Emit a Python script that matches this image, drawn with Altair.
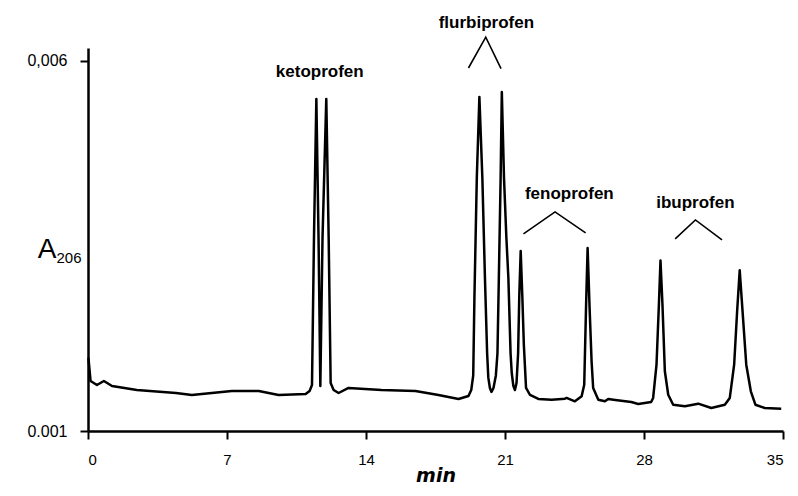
import altair as alt
import pandas as pd

# Chromatogram trace (time in min, absorbance at 206 nm)
times = [0.02, 0.13, 0.45, 0.80, 1.21, 2.46, 4.43, 5.23, 5.73, 7.24, 8.60, 9.60,
         10.96, 11.16, 11.28, 11.38, 11.50, 11.61, 11.70, 11.81, 12.00, 12.12, 12.22,
         12.37, 12.62, 13.12, 14.78, 16.49, 17.65, 18.66, 19.16, 19.30, 19.40, 19.46,
         19.58, 19.71, 19.86, 19.99, 20.10, 20.16, 20.24, 20.32, 20.42, 20.54, 20.62,
         20.69, 20.78, 20.84, 20.95, 21.07, 21.17, 21.28, 21.34, 21.42, 21.50, 21.58,
         21.66, 21.72, 21.79, 21.87, 21.95, 22.06, 22.26,
         22.68, 23.35, 24.02, 24.10, 24.52, 24.86, 24.99, 25.08, 25.16, 25.26, 25.36,
         25.44, 25.70, 26.03, 26.20, 26.55, 27.36, 27.71, 28.36, 28.46, 28.63, 28.75,
         28.83, 28.93, 29.05, 29.22, 29.47, 30.06, 30.73, 31.39, 32.07, 32.32, 32.54,
         32.69, 32.82, 32.94, 33.15, 33.38, 33.61, 34.08, 34.91]
absorbance = [0.00199, 0.001675, 0.001621, 0.001675, 0.001608, 0.001554, 0.001513,
              0.001486, 0.0015, 0.00154, 0.00154, 0.001486,
              0.0015, 0.00154, 0.001621, 0.003606, 0.005483, 0.003606, 0.001608,
              0.003606, 0.005483, 0.003606, 0.001648,
              0.001554, 0.001513, 0.001581, 0.001554, 0.00154, 0.001486, 0.001432,
              0.001473, 0.001554, 0.00175, 0.0028,
              0.004416, 0.00551, 0.004416, 0.003066, 0.00205, 0.00172, 0.00158,
              0.001527, 0.00158, 0.00175, 0.00205,
              0.003066, 0.004416, 0.005577, 0.004416, 0.003606, 0.003066, 0.00205,
              0.001783, 0.00161, 0.001554, 0.001648,
              0.00205, 0.002836, 0.00343, 0.002836, 0.002161, 0.001581, 0.001486,
              0.001432, 0.001423, 0.001436, 0.001446, 0.001401, 0.001469, 0.001625,
              0.002661, 0.003471, 0.002661, 0.001941,
              0.001581, 0.001423, 0.001401, 0.001432, 0.001419, 0.001392, 0.001365,
              0.001392, 0.001446, 0.001895, 0.002705,
              0.0033, 0.002705, 0.001806, 0.00149, 0.001355, 0.001334, 0.001369,
              0.001311, 0.001355, 0.001446, 0.001895,
              0.002616, 0.00317, 0.002705, 0.001895, 0.001536, 0.001355, 0.001311,
              0.001301]

# Peak labels
label_text = ["ketoprofen", "flurbiprofen", "fenoprofen", "ibuprofen"]
label_t = [11.67, 20.06, 24.24, 30.59]
label_v = [0.005847, 0.006509, 0.0042, 0.004079]

# Caret (^) connectors grouping peak pairs
caret_group = ["flurbiprofen"] * 3 + ["fenoprofen"] * 3 + ["ibuprofen"] * 3
caret_t = [19.16, 20.03, 20.80, 21.93, 23.52, 25.06, 29.57, 30.59, 31.93]
caret_v = [0.0059, 0.006316, 0.005892, 0.00366, 0.003957, 0.003674,
           0.003593, 0.003849, 0.003579]

x_ticks = [0, 7, 14, 21, 28, 35]
y_ticks = [0.001, 0.006]

W, H = 695, 383

trace = pd.DataFrame({"t": times, "A": absorbance, "i": range(len(times))})
labels = pd.DataFrame({"name": label_text, "t": label_t, "A": label_v})
carets = pd.DataFrame({"g": caret_group, "t": caret_t, "A": caret_v,
                       "o": list(range(len(caret_t)))})

xscale = alt.Scale(domain=[0, 35], nice=False, zero=False)
yscale = alt.Scale(domain=[0.001, 0.00617], nice=False, zero=False)

line = alt.Chart(trace).mark_line(color="black", strokeWidth=2.5, strokeJoin="round").encode(
    x=alt.X("t:Q", scale=xscale,
            axis=alt.Axis(values=x_ticks, title="min", grid=False,
                          domainColor="black", domainWidth=2.5,
                          tickColor="black", tickWidth=2, tickSize=8,
                          labelFont="Liberation Sans", labelFontSize=15,
                          labelColor="black", labelPadding=13,
                          titleFont="DejaVu Sans", titleFontSize=19,
                          titleFontStyle="italic", titleFontWeight="bold",
                          titleColor="black", titleBaseline="alphabetic",
                          titleY=50)),
    y=alt.Y("A:Q", scale=yscale,
            axis=alt.Axis(values=y_ticks, title=None, grid=False,
                          labelExpr="datum.value > 0.005 ? '0,006' : '0.001'",
                          domainColor="black", domainWidth=2.5,
                          tickColor="black", tickWidth=2, tickSize=8,
                          labelFont="Liberation Sans", labelFontSize=16,
                          labelColor="black", labelPadding=13)),
    order="i:Q",
)

caret_lines = alt.Chart(carets).mark_line(color="black", strokeWidth=1.6).encode(
    x=alt.X("t:Q", scale=xscale),
    y=alt.Y("A:Q", scale=yscale),
    detail="g:N",
    order="o:Q",
)

text = alt.Chart(labels).mark_text(font="Liberation Sans", fontSize=17,
                                   fontWeight="bold", color="black",
                                   baseline="middle", align="center").encode(
    x=alt.X("t:Q", scale=xscale),
    y=alt.Y("A:Q", scale=yscale),
    text="name:N",
)

title_df = pd.DataFrame({"s": ["A", "206"], "k": [0, 1]})
title_A = alt.Chart(title_df).transform_filter("datum.k == 0").mark_text(
    font="Liberation Sans", fontSize=28, color="black", align="center",
    baseline="middle").encode(x=alt.value(-41), y=alt.value(202), text="s:N")
title_sub = alt.Chart(title_df).transform_filter("datum.k == 1").mark_text(
    font="Liberation Sans", fontSize=15, color="black", align="center",
    baseline="middle").encode(x=alt.value(-19), y=alt.value(210), text="s:N")

chart = alt.layer(line, caret_lines, text, title_A, title_sub).properties(
    width=W, height=H,
    autosize=alt.AutoSizeParams(type="none"),
    padding={"left": 80, "top": 40, "right": 7, "bottom": 55},
    background="white",
).configure_view(stroke=None)

chart.save("out.html", embed_options={"renderer": "svg", "actions": False})
